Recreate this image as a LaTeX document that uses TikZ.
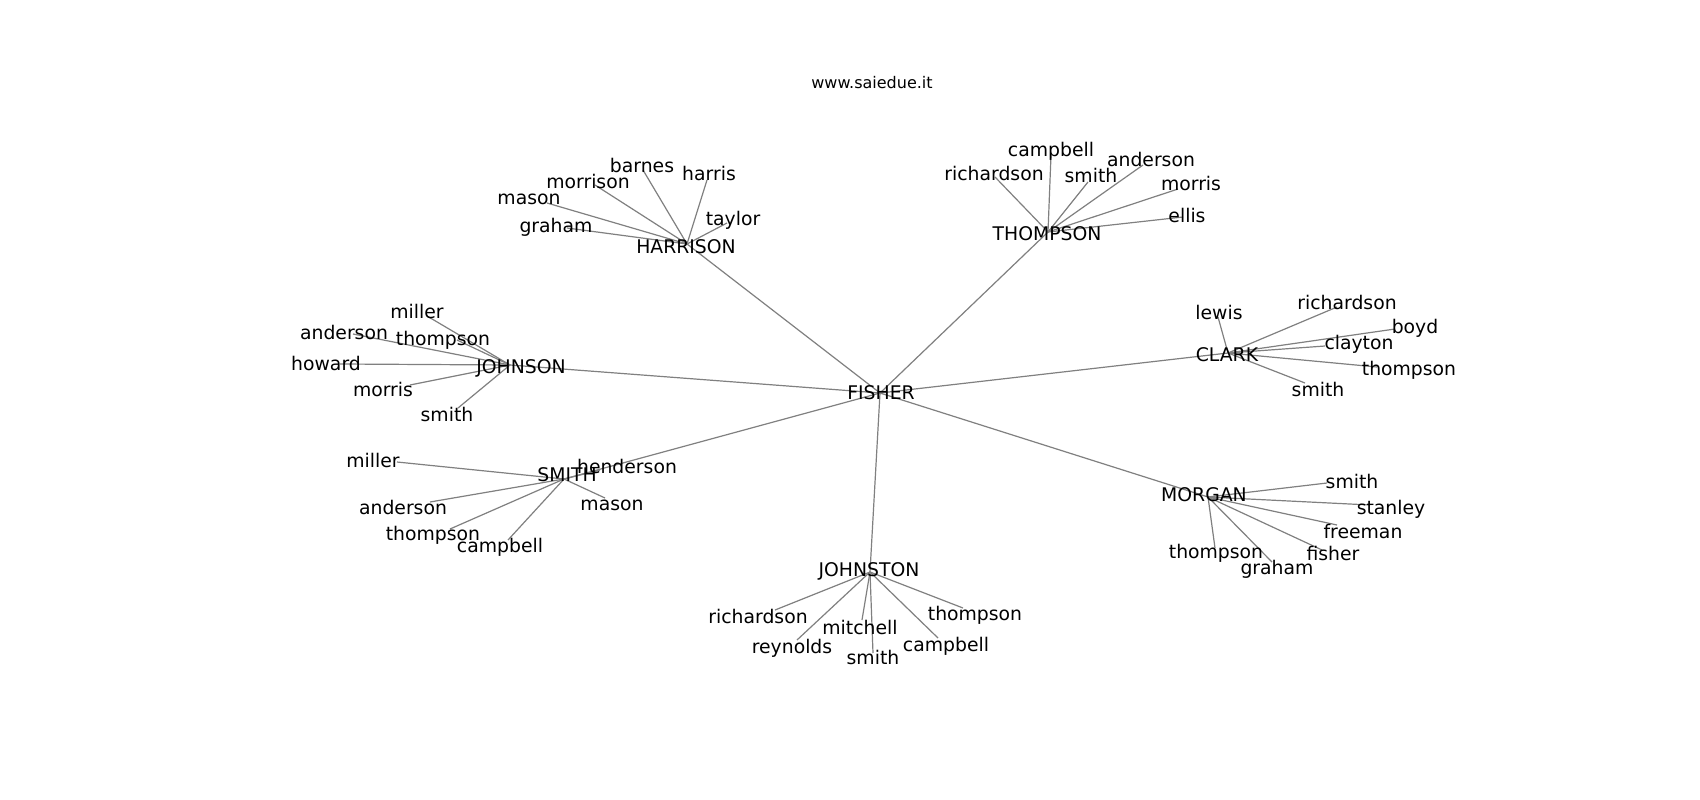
\documentclass[tikz,border=0pt]{standalone}
\usepackage{fontspec}
\setmainfont{DejaVu Sans}
\begin{document}
\begin{tikzpicture}[x=1pt,y=-1pt,
  lbl/.style={inner sep=0pt,anchor=center,yshift=-4pt,text height=0.72em,text depth=0pt,font=\fontsize{18.8}{22}\selectfont,text=black},
  title/.style={inner sep=0pt,anchor=center,yshift=-2.5pt,text height=0.72em,text depth=0pt,font=\fontsize{16}{19}\selectfont,text=black},
  edge/.style={draw=gray,line width=1.2pt}]
\useasboundingbox (0,0) rectangle (1700,800);
\fill[white] (0,0) rectangle (1700,800);
\node[title] (site) at (872,82) {www.saiedue.it};
% hubs
\coordinate (fisher) at (880,393);
\coordinate (harrison) at (687,244);
\coordinate (thompson) at (1048,232);
\coordinate (clark) at (1228,353);
\coordinate (johnson) at (510,365);
\coordinate (smith) at (564,479);
\coordinate (johnston) at (870,572);
\coordinate (morgan) at (1208,497);
\foreach \h in {harrison,thompson,clark,johnson,smith,johnston,morgan}
  \draw[edge] (fisher) -- (\h);
% leaves: id / parent / edge end
\foreach \id/\pa/\px/\py in {
  ha1/harrison/643/170, ha2/harrison/707/180, ha3/harrison/595/185,
  ha4/harrison/547/203, ha5/harrison/567/228, ha6/harrison/727/223,
  th1/thompson/1051/155, th2/thompson/995/177, th3/thompson/1088/182,
  th4/thompson/1143/165, th5/thompson/1178/189, th6/thompson/1183/217,
  cl1/clark/1218/317, cl2/clark/1337/307, cl3/clark/1395/329,
  cl4/clark/1325/346, cl5/clark/1377/367, cl6/clark/1305/383,
  jo1/johnson/427/316, jo2/johnson/353/334, jo3/johnson/457/340,
  jo4/johnson/340/364, jo5/johnson/410/385, jo6/johnson/458/408,
  sm1/smith/600/470, sm2/smith/397/462, sm3/smith/430/502,
  sm4/smith/450/529, sm5/smith/508/540, sm6/smith/605/498,
  jt1/johnston/775/610, jt2/johnston/797/640, jt3/johnston/862/620,
  jt4/johnston/873/653, jt5/johnston/938/638, jt6/johnston/963/608,
  mo1/morgan/1327/483, mo2/morgan/1370/505, mo3/morgan/1337/525,
  mo4/morgan/1322/550, mo5/morgan/1215/548, mo6/morgan/1272/562}
{
  \coordinate (\id) at (\px,\py);
  \draw[edge] (\pa) -- (\id);
}
\foreach \id/\t/\lx/\ly in {
  ha1/barnes/642/165, ha2/harris/709/173, ha3/morrison/588/181,
  ha4/mason/529/197, ha5/graham/556/225, ha6/taylor/733/218,
  th1/campbell/1051/149, th2/richardson/994/173, th3/smith/1091/175,
  th4/anderson/1151/159, th5/morris/1191/183, th6/ellis/1187/215,
  cl1/lewis/1219/312, cl2/richardson/1347/302, cl3/boyd/1415/326,
  cl4/clayton/1359/342, cl5/thompson/1409/368, cl6/smith/1318/389,
  jo1/miller/417/311, jo2/anderson/344/332, jo3/thompson/443/338,
  jo4/howard/326/363, jo5/morris/383/389, jo6/smith/447/414,
  sm1/henderson/627/466, sm2/miller/373/460, sm3/anderson/403/507,
  sm4/thompson/433/533, sm5/campbell/500/545, sm6/mason/612/503,
  jt1/richardson/758/616, jt2/reynolds/792/646, jt3/mitchell/860/627,
  jt4/smith/873/657, jt5/campbell/946/644, jt6/thompson/975/613,
  mo1/smith/1352/481, mo2/stanley/1391/507, mo3/freeman/1363/531,
  mo4/fisher/1333/553, mo5/thompson/1216/551, mo6/graham/1277/567}
  \node[lbl] (\id-l) at (\lx,\ly) {\t};
% hub labels
\node[lbl] (fisher-l) at (881,392) {FISHER};
\node[lbl] (harrison-l) at (686,246) {HARRISON};
\node[lbl] (thompson-l) at (1047,233) {THOMPSON};
\node[lbl] (clark-l) at (1227,354) {CLARK};
\node[lbl] (johnson-l) at (521,366) {JOHNSON};
\node[lbl] (smith-l) at (567,474) {SMITH};
\node[lbl] (johnston-l) at (869,569) {JOHNSTON};
\node[lbl] (morgan-l) at (1204,494) {MORGAN};
\end{tikzpicture}
\end{document}
